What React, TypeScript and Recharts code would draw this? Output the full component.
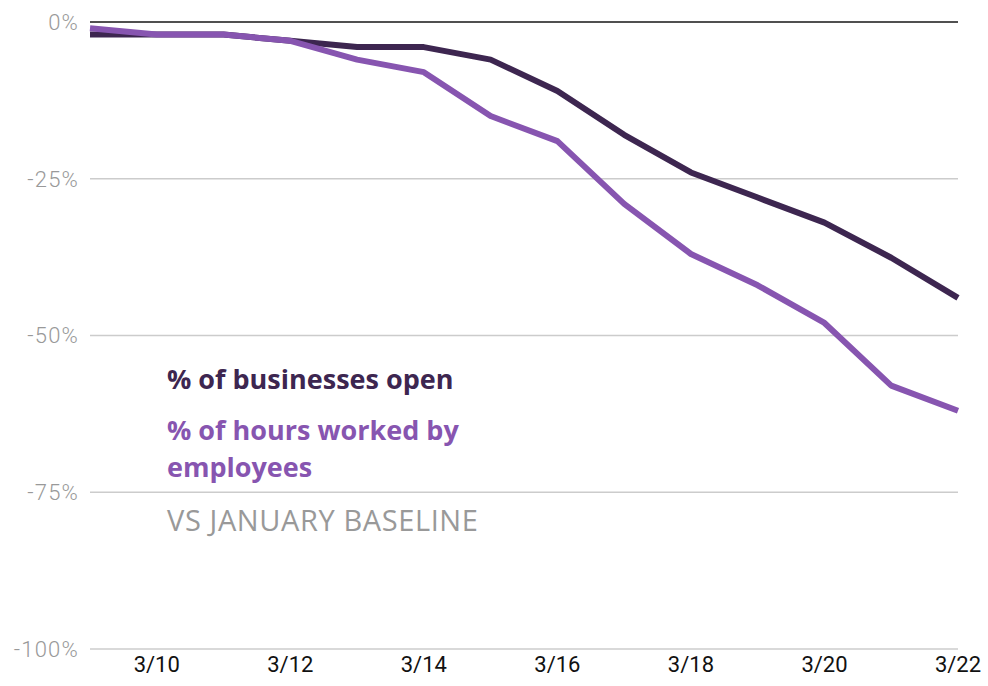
import React from "react";
import { LineChart, Line, XAxis, YAxis, CartesianGrid, ReferenceLine } from "recharts";

const days = [9, 10, 11, 12, 13, 14, 15, 16, 17, 18, 19, 20, 21, 22];
const businessesOpen = [-2, -2, -2, -3, -4, -4, -6, -11, -18, -24, -28, -32, -37.6, -44];
const hoursWorked = [-1, -2, -2, -3, -6, -8, -15, -19, -29, -37, -42, -48, -58, -62];
const xTicks = [10, 12, 14, 16, 18, 20, 22];
const yTicks = [0, -25, -50, -75, -100];

const data = days.map((d, i) => ({ day: d, biz: businessesOpen[i], hours: hoursWorked[i] }));

const DARK = "#3d2650";
const PURPLE = "#8755b0";

const boldText: React.CSSProperties = {
  position: "absolute",
  left: 167,
  fontFamily: "Open Sans",
  fontWeight: 700,
  fontSize: 27,
  lineHeight: "30px",
  whiteSpace: "nowrap",
};

export default function App() {
  return (
    <div style={{ position: "absolute", left: 0, top: 0, width: 988, height: 686, background: "#fff" }}>
      <LineChart width={988} height={686} data={data} margin={{ top: 22, right: 30, bottom: 0, left: 0 }}>
        <CartesianGrid horizontal vertical={false} stroke="#cccccc" strokeWidth={1.5} />
        <XAxis
          dataKey="day"
          type="number"
          domain={[9, 22]}
          ticks={xTicks}
          tickFormatter={(d) => `3/${d}`}
          axisLine={false}
          tickLine={false}
          height={37}
          tickMargin={1}
          tick={{ fill: "#111", fontSize: 22, fontFamily: "Roboto" }}
        />
        <YAxis
          type="number"
          domain={[-100, 0]}
          ticks={yTicks}
          tickFormatter={(v) => `${v}%`}
          axisLine={false}
          tickLine={false}
          width={90}
          tickMargin={5}
          tick={{ fill: "#999", fontSize: 22, fontFamily: "Roboto", fontWeight: 300, letterSpacing: 1.2 }}
        />
        <ReferenceLine y={0} stroke="#222" strokeWidth={1.5} />
        <Line dataKey="biz" stroke={DARK} strokeWidth={6} dot={false} isAnimationActive={false} strokeLinejoin="round" />
        <Line dataKey="hours" stroke={PURPLE} strokeWidth={6} dot={false} isAnimationActive={false} strokeLinejoin="round" />
      </LineChart>
      <div style={{ ...boldText, top: 364, color: DARK }}>% of businesses open</div>
      <div style={{ ...boldText, top: 414.5, color: PURPLE }}>% of hours worked by</div>
      <div style={{ ...boldText, top: 451.5, color: PURPLE }}>employees</div>
      <div style={{ position: "absolute", left: 167, top: 503, fontFamily: "Open Sans", fontWeight: 400, fontSize: 29, color: "#999", lineHeight: "34px", whiteSpace: "nowrap", letterSpacing: 0.6 }}>
        VS JANUARY BASELINE
      </div>
    </div>
  );
}
